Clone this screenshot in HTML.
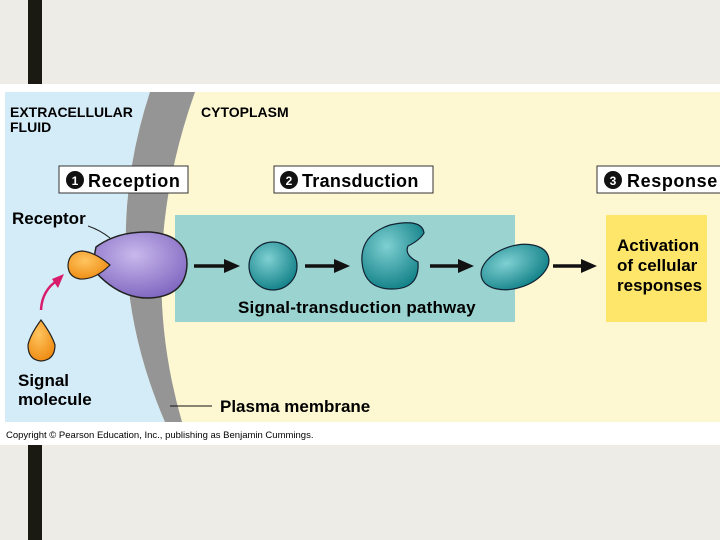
<!DOCTYPE html>
<html><head><meta charset="utf-8"><style>
body{margin:0;width:720px;height:540px;background:#eeece7;position:relative;overflow:hidden;font-family:"Liberation Sans",Arial,sans-serif}
</style></head><body>
<div style="position:absolute;left:28px;top:0;width:14px;height:540px;background:#1a1a12"></div>
<div style="position:absolute;left:0;top:84px;width:720px;height:361px;background:#fff"></div>
<svg width="720" height="540" style="position:absolute;left:0;top:0" font-family="Liberation Sans, Arial, sans-serif" font-weight="bold">
<defs>
<radialGradient id="pg" cx="0.45" cy="0.35" r="0.7"><stop offset="0" stop-color="#c8b8ec"/><stop offset="1" stop-color="#7d64bf"/></radialGradient>
<radialGradient id="tg" cx="0.4" cy="0.35" r="0.7"><stop offset="0" stop-color="#7fd0d2"/><stop offset="1" stop-color="#0f7f86"/></radialGradient>
<radialGradient id="og" cx="0.4" cy="0.35" r="0.7"><stop offset="0" stop-color="#ffc560"/><stop offset="1" stop-color="#ee8a10"/></radialGradient>
</defs>
<rect x="5" y="92" width="715" height="330" fill="#fdf8d2"/>
<path d="M5 92 L150 92 Q95 260 165 422 L5 422 Z" fill="#d3ecf8"/>
<path d="M150 92 L195 92 Q135 260 182 422 L165 422 Q95 260 150 92 Z" fill="#959595"/>
<text x="10" y="117" font-size="14">EXTRACELLULAR</text>
<text x="10" y="132" font-size="14">FLUID</text>
<text x="201" y="117" font-size="14">CYTOPLASM</text>
<rect x="59" y="166" width="129" height="27" fill="#fff" stroke="#333"/>
<circle cx="75" cy="180" r="9" fill="#111"/><text x="75" y="185" font-size="12" fill="#fff" text-anchor="middle">1</text>
<text x="88" y="187" font-size="18" letter-spacing="0.6">Reception</text>
<rect x="274" y="166" width="159" height="27" fill="#fff" stroke="#333"/>
<circle cx="289" cy="180" r="9" fill="#111"/><text x="289" y="185" font-size="12" fill="#fff" text-anchor="middle">2</text>
<text x="302" y="187" font-size="18" letter-spacing="0.3">Transduction</text>
<rect x="597" y="166" width="130" height="27" fill="#fff" stroke="#333"/>
<circle cx="613" cy="180" r="9" fill="#111"/><text x="613" y="185" font-size="12" fill="#fff" text-anchor="middle">3</text>
<text x="627" y="187" font-size="18" letter-spacing="0.6">Response</text>
<rect x="175" y="215" width="340" height="107" fill="#9ad3d0"/>
<rect x="606" y="215" width="101" height="107" fill="#fde66a"/>
<text x="12" y="224" font-size="17">Receptor</text>
<path d="M88 226 Q100 230 110 238" stroke="#222" fill="none" stroke-width="1"/>
<path d="M96 247 Q118 231 150 232 Q187 235 187 264 Q186 296 150 298 Q118 299 92 268 Z" fill="url(#pg)" stroke="#222" stroke-width="1.5"/>
<path d="M110 265 Q95 280 80 279 Q68 277 68 265 Q69 252 82 251 Q95 252 110 265 Z" fill="url(#og)" stroke="#222" stroke-width="1.2"/>
<path d="M41 320 Q30 335 28 345 Q28 360 41 361 Q55 360 55 345 Q52 335 41 320 Z" fill="url(#og)" stroke="#222" stroke-width="1.2"/>
<path d="M41 310 Q42 290 58 280" stroke="#d81b6b" stroke-width="2.5" fill="none"/>
<path d="M64 274 L52 279 L58 288 Z" fill="#d81b6b"/>
<text x="18" y="386" font-size="17">Signal</text>
<text x="18" y="405" font-size="17">molecule</text>
<g stroke="#111" stroke-width="3.5"><line x1="194" y1="266" x2="228" y2="266"/><line x1="305" y1="266" x2="338" y2="266"/><line x1="430" y1="266" x2="462" y2="266"/><line x1="553" y1="266" x2="585" y2="266"/></g>
<g fill="#111"><path d="M240 266 L224 259 L224 273Z"/><path d="M350 266 L334 259 L334 273Z"/><path d="M474 266 L458 259 L458 273Z"/><path d="M597 266 L581 259 L581 273Z"/></g>
<circle cx="273" cy="266" r="24" fill="url(#tg)" stroke="#123" stroke-width="1.2"/>
<path d="M362 262 Q360 235 390 225 Q422 218 424 233 Q420 240 408 246 Q404 255 418 262 Q420 290 390 289 Q364 288 362 262 Z" fill="url(#tg)" stroke="#123" stroke-width="1.2"/>
<ellipse cx="515" cy="267" rx="35" ry="21" transform="rotate(-18 515 267)" fill="url(#tg)" stroke="#123" stroke-width="1.2"/>
<text x="238" y="313" font-size="17" letter-spacing="0.2">Signal-transduction pathway</text>
<text x="617" y="251" font-size="17">Activation</text>
<text x="617" y="271" font-size="17">of cellular</text>
<text x="617" y="291" font-size="17">responses</text>
<line x1="170" y1="406" x2="212" y2="406" stroke="#111" stroke-width="1"/>
<text x="220" y="412" font-size="17">Plasma membrane</text>
<text x="6" y="438" font-size="9.5" font-weight="normal">Copyright © Pearson Education, Inc., publishing as Benjamin Cummings.</text>
</svg>
</body></html>
